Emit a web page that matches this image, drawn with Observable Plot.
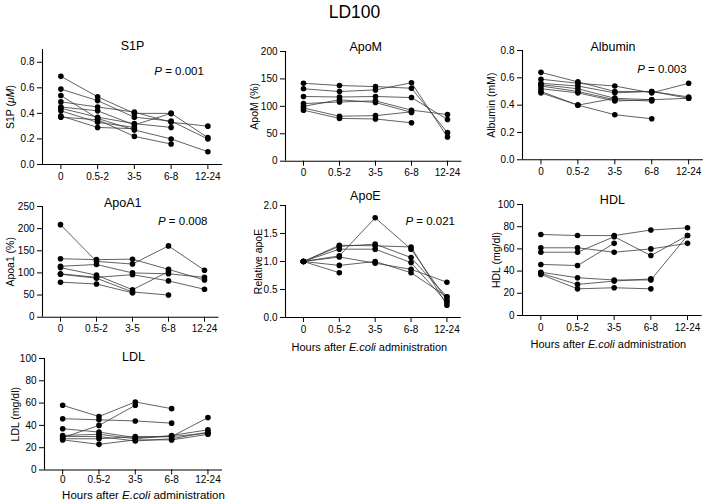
<!DOCTYPE html>
<html><head><meta charset="utf-8">
<script src="https://cdn.jsdelivr.net/npm/d3@7"></script>
<script src="https://cdn.jsdelivr.net/npm/@observablehq/plot@0.6"></script>
<style>
body{margin:0;background:#fff;overflow:hidden}
#chart{position:relative;width:709px;height:501px;background:#fff;overflow:hidden;font-family:"Liberation Sans",Arial,Helvetica,sans-serif;color:#000}
#title{position:absolute;left:0;top:1px;width:709px;text-align:center;font-size:17.5px;line-height:22px}
#chart svg{position:absolute}
</style></head><body>
<div id="chart"><div id="title">LD100</div></div>
<script>
// ---- data ----
const timepoints = ["0", "0.5-2", "3-5", "6-8", "12-24"];
const xAxisTitle = "Hours after E.coli administration";

const s1p = [
  [0.69, 0.53, 0.40, 0.40, 0.21],
  [0.59, 0.50, 0.37, 0.34, 0.20],
  [0.54, 0.36, 0.27, 0.20, 0.10],
  [0.49, 0.45, 0.41, 0.33, 0.30],
  [0.45, 0.42, 0.31, 0.40, null],
  [0.44, 0.37, 0.32, 0.29, null],
  [0.42, 0.33, 0.29, null, null],
  [0.38, 0.29, 0.28, null, null],
  [0.37, 0.35, 0.22, 0.16, null]
];
const apoM = [
  [142, 138, 136, 133, 52],
  [132, 127, 130, 143, 44],
  [118, 117, 118, 116, 76],
  [105, 108, 110, 93, 85],
  [100, 112, 107, 89, null],
  [97, 82, 83, 90, null],
  [93, 78, 77, 70, null]
];
const albumin = [
  [0.64, 0.57, 0.50, 0.50, 0.45],
  [0.59, 0.56, 0.54, 0.49, 0.56],
  [0.56, 0.54, 0.49, 0.50, 0.46],
  [0.55, 0.52, 0.45, 0.44, 0.45],
  [0.54, 0.50, 0.44, 0.43, null],
  [0.52, 0.49, 0.43, 0.44, null],
  [0.50, 0.40, 0.45, null, null],
  [0.49, 0.40, 0.33, 0.30, null]
];
const apoA1 = [
  [209, 126, 120, 161, 106],
  [132, 130, 131, 108, 84],
  [115, 119, 100, 98, 90],
  [112, 95, 62, 103, null],
  [98, 90, 96, 82, 63],
  [97, 88, 57, 50, null],
  [79, 75, 55, null, null]
];
const apoE = [
  [1, 1.10, 1.78, 1.22, 0.31],
  [1, 1.29, 1.28, 1.26, 0.22],
  [1, 1.27, 1.31, 1.07, 0.37],
  [1, 1.22, 1.22, 0.98, 0.27],
  [1, 1.08, 0.97, 0.86, 0.63],
  [1, 0.93, 1.00, 0.80, 0.37],
  [1, 0.80, null, null, null]
];
const hdl = [
  [73, 72, 72, 77, 79],
  [61, 61, 57, 60, 65],
  [57, 57, 71, 54, 72],
  [46, 45, 65, null, null],
  [39, 34, 32, 32, 72],
  [38, 28, 31, 33, null],
  [37, 24, 25, 24, null]
];
const ldl = [
  [58, 48, 61, 55, null],
  [46, 45, 44, 42, null],
  [29, 40, 58, null, null],
  [37, 34, 29, 30, 47],
  [31, 32, 28, 31, 36],
  [30, 30, 26, 28, 34],
  [27, 23, 27, 27, 32],
  [28, 28, 30, 30, 33]
];

const titles = ["S1P", "ApoM", "Albumin", "ApoA1", "ApoE", "HDL", "LDL"];
const yLabels = ["S1P (μM)", "ApoM (%)", "Albumin (mM)", "Apoa1 (%)", "Relative apoE", "HDL (mg/dl)", "LDL (mg/dl)"];
const yTicks = [
  [0, 0.2, 0.4, 0.6, 0.8],
  [0, 50, 100, 150, 200],
  [0, 0.2, 0.4, 0.6, 0.8],
  [0, 50, 100, 150, 200, 250],
  [0, 0.5, 1.0, 1.5, 2.0],
  [0, 20, 40, 60, 80, 100],
  [0, 20, 40, 60, 80, 100]
];
const yMax = [0.9, 200, 0.8, 250, 2, 100, 100];
const pValues = ["P = 0.001", null, "P = 0.003", "P = 0.008", "P = 0.021", null, null];

// ---- layout (pixels) ----
const layout = [
  {x0: 60,    x4: 207,   T: 49,    B: 164,   fmt: ".1f", off: 32, tp: 3, tdx: 0,  tdy: -3, pdx: -4, pdy: 22, xt: null},
  {x0: 302.7, x4: 446.7, T: 51,    B: 160.7, fmt: "d",   off: 31, tp: 3, tdx: -8, tdy: -4, pdx: 0,  pdy: 20, xt: null},
  {x0: 540,   x4: 687.7, T: 50,    B: 159.3, fmt: ".1f", off: 31, tp: 3, tdx: 0,  tdy: -3, pdx: -2, pdy: 19, xt: null},
  {x0: 60,    x4: 204,   T: 206,   B: 316.7, fmt: "d",   off: 32, tp: 3, tdx: -8, tdy: -3, pdx: 3,  pdy: 15, xt: null},
  {x0: 302.5, x4: 446,   T: 204.5, B: 316.5, fmt: ".1f", off: 27, tp: 3, tdx: -8, tdy: -9, pdx: 8,  pdy: 16, xt: {dy: 29.5, dx: -4, size: 11}},
  {x0: 540,   x4: 686.7, T: 204,   B: 315,   fmt: "d",   off: 26, tp: 3, tdx: 0,  tdy: -4, pdx: 0,  pdy: 16, xt: {dy: 29,   dx: -4, size: 11}},
  {x0: 61.7,  x4: 207,   T: 358,   B: 469.5, fmt: "d",   off: 29, tp: 1, tdx: 0,  tdy: -1, pdx: 0,  pdy: 16, xt: {dy: 25.5, dx: 10, size: 11.5}}
];
const seriesList = [s1p, apoM, albumin, apoA1, apoE, hdl, ldl];
const xDomain = [-0.5, 4.4];
const fontFamily = '"Liberation Sans", Arial, Helvetica, sans-serif';

function italicize(svg, whole, part) {
  svg.querySelectorAll("text").forEach(t => {
    if (t.textContent === whole && t.children.length === 0) {
      const idx = whole.indexOf(part);
      t.textContent = "";
      t.append(document.createTextNode(whole.slice(0, idx)));
      const ts = document.createElementNS("http://www.w3.org/2000/svg", "tspan");
      ts.setAttribute("font-style", "italic");
      ts.textContent = part;
      t.append(ts);
      t.append(document.createTextNode(whole.slice(idx + part.length)));
    }
  });
}

const chart = document.getElementById("chart");
seriesList.forEach((series, k) => {
  const g = layout[k];
  const step = (g.x4 - g.x0) / 4;
  const L = g.x0 + xDomain[0] * step;
  const R = g.x0 + xDomain[1] * step;
  const ml = 50, mr = Math.min(8, 709 - R), mt = 30, mb = 45;
  const rows = series.flatMap((s, id) => s.map((v, i) => ({id, i, v}))).filter(d => d.v != null);
  const marks = [
    Plot.line(rows, {x: "i", y: "v", z: "id", stroke: "#3a3a3a", strokeWidth: 0.8}),
    Plot.dot(rows, {x: "i", y: "v", r: 2.8, fill: "#000", stroke: "none"}),
    Plot.ruleX([xDomain[0]], {stroke: "#000", strokeWidth: 1.1}),
    Plot.ruleY([0], {stroke: "#000", strokeWidth: 1.1}),
    Plot.axisY({ticks: yTicks[k], tickFormat: d3.format(g.fmt), tickSize: 5, tickPadding: 3, label: null, fontSize: 10, stroke: "#000"}),
    Plot.axisX({ticks: timepoints.map((_, i) => i), tickFormat: i => timepoints[i], tickSize: 5, tickPadding: g.tp, label: null, fontSize: 10}),
    Plot.text([titles[k]], {text: d => d, frameAnchor: "top", lineAnchor: "middle", textAnchor: "middle", dx: g.tdx, dy: g.tdy, fontSize: 12.5}),
    Plot.text([yLabels[k]], {text: d => d, frameAnchor: "left", rotate: -90, textAnchor: "middle", lineAnchor: "middle", dx: -g.off, fontSize: 10.5})
  ];
  if (pValues[k]) marks.push(Plot.text([pValues[k]], {text: d => d, x: () => timepoints.length - 1, frameAnchor: "top", lineAnchor: "middle", textAnchor: "end", dx: g.pdx, dy: g.pdy, fontSize: 11.5}));
  if (g.xt) marks.push(Plot.text([xAxisTitle], {text: d => d, frameAnchor: "bottom", lineAnchor: "middle", textAnchor: "middle", dx: g.xt.dx, dy: g.xt.dy, fontSize: g.xt.size}));
  const svg = Plot.plot({
    width: R - L + ml + mr,
    height: g.B - g.T + mt + mb,
    marginLeft: ml, marginRight: mr, marginTop: mt, marginBottom: mb,
    x: {domain: xDomain},
    y: {domain: [0, yMax[k]]},
    style: {fontFamily, fontSize: "10px", background: "transparent", overflow: "visible", color: "#000"},
    marks
  });
  svg.style.left = (L - ml) + "px";
  svg.style.top = (g.T - mt) + "px";
  if (pValues[k]) italicize(svg, pValues[k], "P");
  italicize(svg, xAxisTitle, "E.coli");
  italicize(svg, "S1P (μM)", "μM");
  chart.appendChild(svg);
});
</script>
</body></html>
